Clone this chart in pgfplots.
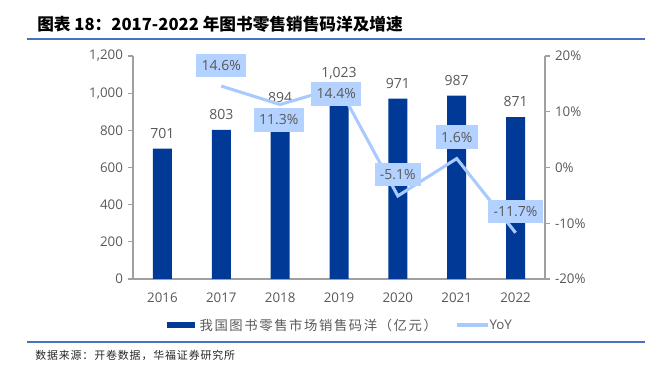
\documentclass[border=0pt]{standalone}
\usepackage{pgfplots}
\pgfplotsset{compat=1.18}
\usepackage{pgfplotstable}
\usepackage{fontspec}
\setmainfont{Noto Sans CJK SC}
\newfontfamily\cjk{Noto Sans CJK SC}
\newfontfamily\cjkleg[LetterSpace=12]{Noto Sans CJK SC}
\newfontfamily\cjksrc[LetterSpace=8]{Noto Sans CJK SC}
\newfontfamily\num{Open Sans}
\definecolor{barblue}{RGB}{0,58,150}
\definecolor{lineblue}{RGB}{168,202,255}
\definecolor{boxblue}{RGB}{180,210,255}
\definecolor{txtgray}{RGB}{89,89,89}
\definecolor{axgray}{RGB}{160,160,160}
\definecolor{rule}{RGB}{68,114,196}

\pgfplotstableread{
x v
0 701
1 803
2 894
3 1023
4 971
5 987
6 871
}\sales

\pgfplotstableread{
x y dx dy
1 14.6 0 15.5
2 11.3 -1 -11.5
3 14.4 -2 -5
4 -5.1 0 16
5 1.6 0 16
6 -11.7 0 16
}\yoy

\begin{document}
\begin{tikzpicture}
\path[use as bounding box] (0,0) rectangle (486.75pt,277.5pt);
% title
\node[anchor=west, inner sep=0pt, font=\cjk\fontsize{12.5}{14}\selectfont\bfseries] at (27.75pt,259.5pt) {图表 18：2017-2022 年图书零售销售码洋及增速};
\draw[rule, line width=1.1pt] (20.25pt,248.25pt) -- (483.75pt,248.25pt);
\draw[rule, line width=1.1pt] (20.25pt,21pt) -- (483.75pt,21pt);
\node[anchor=west, inner sep=0pt, font=\cjksrc\fontsize{8.2}{10}\selectfont, text=black!85] at (26.25pt,10.75pt) {数据来源：开卷数据，华福证券研究所};

\begin{axis}[
  at={(99.75pt,68.25pt)}, anchor=south west,
  scale only axis, width=309pt, height=167.25pt,
  xmin=-0.5, xmax=6.5, ymin=0, ymax=1200,
  axis y line*=left, axis x line*=bottom,
  axis line style={axgray, line width=0.8pt},
  xtick=data, xticklabels={2016,2017,2018,2019,2020,2021,2022},
  x tick style={draw=none},
  xticklabel style={yshift=-3pt},
  ytick={0,200,400,600,800,1000,1200},
  y tick style={axgray, line width=0.8pt},
  tick align=outside, major tick length=4pt,
  tick label style={font=\num\fontsize{10}{12}\selectfont, text=txtgray},
  /pgf/number format/assume math mode=true,
  /pgf/number format/1000 sep={,},
  ybar, bar width=14.25pt,
  nodes near coords,
  nodes near coords style={font=\num\fontsize{10.5}{12}\selectfont, text=txtgray, yshift=4pt, /pgf/number format/1000 sep={,}, /pgf/number format/assume math mode=true},
  clip=false,
]
\addplot[fill=barblue, draw=none] table[x=x, y=v] {\sales};
\end{axis}

\begin{axis}[
  at={(99.75pt,68.25pt)}, anchor=south west,
  scale only axis, width=309pt, height=167.25pt,
  xmin=-0.5, xmax=6.5, ymin=-20, ymax=20,
  axis y line*=right, axis x line=none,
  axis line style={axgray, line width=0.8pt},
  ytick={-20,-10,0,10,20},
  yticklabel={\pgfmathprintnumber{\tick}\%},
  y tick style={axgray, line width=0.8pt},
  tick align=outside, major tick length=4pt,
  tick label style={font=\num\fontsize{10}{12}\selectfont, text=txtgray},
  /pgf/number format/assume math mode=true,
  clip=false,
]
\addplot[lineblue, line width=2.3pt, mark=none,
  visualization depends on={\thisrow{dx} \as \dx},
  visualization depends on={\thisrow{dy} \as \dy},
  nodes near coords={\pgfmathprintnumber[fixed,fixed zerofill,precision=1]{\pgfplotspointmeta}\%},
  point meta=explicit,
  every node near coord/.append style={anchor=center, xshift=\dx pt, yshift=\dy pt, fill=boxblue, text=txtgray, font=\num\fontsize{10.5}{12}\selectfont, inner xsep=4pt, inner ysep=5pt, /pgf/number format/assume math mode=true},
] table[x=x, y=y, meta=y] {\yoy};
\end{axis}

% legend
\fill[barblue] (125.25pt,31.5pt) rectangle (146.25pt,36pt);
\node[anchor=west, inner sep=0pt, font=\cjkleg\fontsize{10}{11}\selectfont, text=txtgray] at (149.5pt,33.75pt) {我国图书零售市场销售码洋（亿元）};
\draw[lineblue, line width=2.3pt] (342.75pt,33.75pt) -- (366pt,33.75pt);
\node[anchor=west, inner sep=0pt, font=\num\fontsize{10}{11}\selectfont, text=txtgray] at (367pt,33.75pt) {YoY};
\end{tikzpicture}
\end{document}
